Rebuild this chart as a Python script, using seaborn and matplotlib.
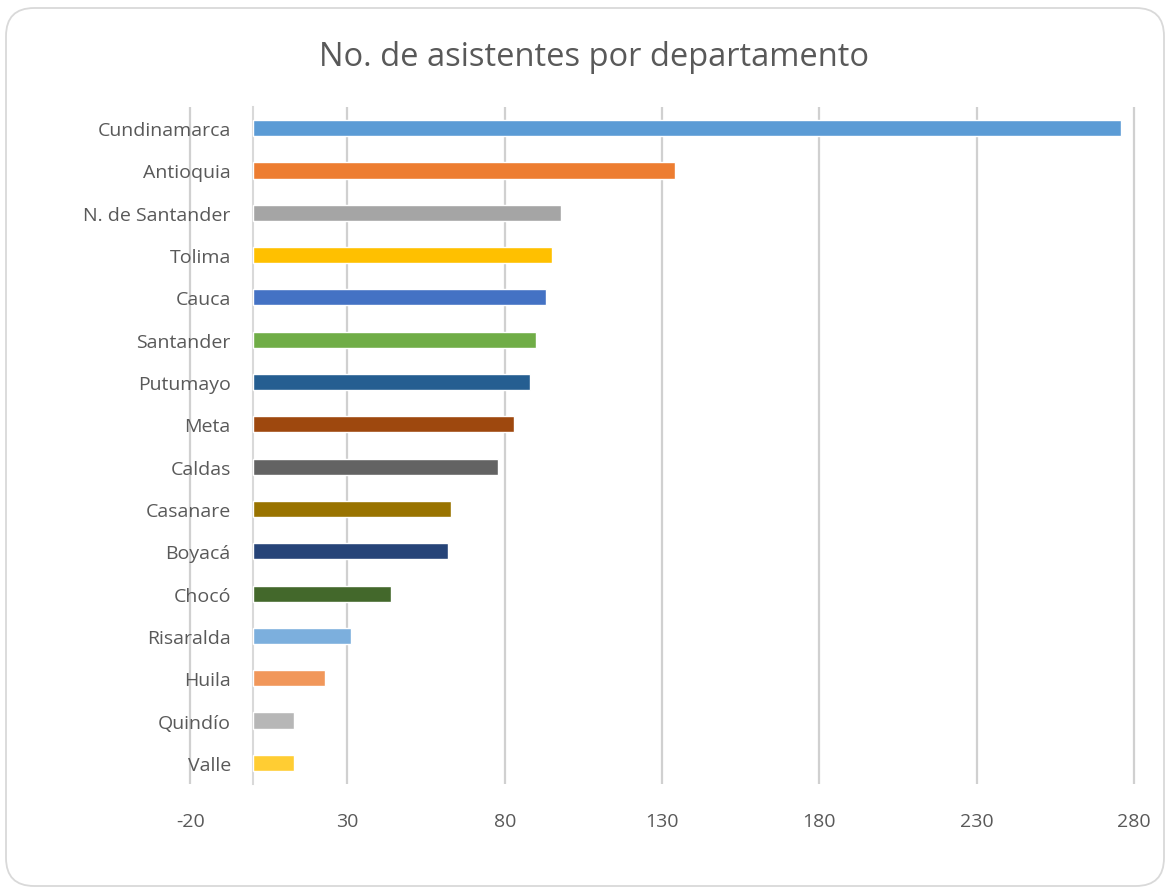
import matplotlib
matplotlib.use("Agg")
import matplotlib.pyplot as plt
from matplotlib.patches import FancyBboxPatch
import seaborn as sns
import pandas as pd

departamentos = ["Cundinamarca", "Antioquia", "N. de Santander", "Tolima", "Cauca",
                 "Santander", "Putumayo", "Meta", "Caldas", "Casanare", "Boyacá",
                 "Chocó", "Risaralda", "Huila", "Quindío", "Valle"]
asistentes = [276, 134, 98, 95, 93, 90, 88, 83, 78, 63, 62, 44, 31, 23, 13, 13]
colores = ["#5B9BD5", "#ED7D31", "#A5A5A5", "#FFC000", "#4472C4", "#70AD47",
           "#255E91", "#9E480E", "#636363", "#997300", "#264478", "#43682B",
           "#7CAFDD", "#F1975A", "#B7B7B7", "#FFCD33"]
xticks = [-20, 30, 80, 130, 180, 230, 280]
titulo = "No. de asistentes por departamento"

df = pd.DataFrame({"dep": departamentos, "n": asistentes})

sns.set_theme(style="white")
plt.rcParams["font.family"] = ["Open Sans", "DejaVu Sans"]

fig = plt.figure(figsize=(11.71, 8.95), dpi=100)
fig.patch.set_facecolor("white")
border = FancyBboxPatch((6 / 1171, 8 / 895), 1158 / 1171, 878 / 895,
                        boxstyle="round,pad=0,rounding_size=0.024",
                        transform=fig.transFigure, facecolor="white",
                        edgecolor="#D9D9D9", linewidth=1.3, mutation_aspect=1171 / 895,
                        zorder=-5)
fig.patches.append(border)

ax = fig.add_axes([187 / 1171, 1 - 785 / 895, (1137 - 187) / 1171, (785 - 108) / 895])
ax.set_zorder(2)
ax.set_facecolor("none")
sns.barplot(data=df, x="n", y="dep", hue="dep", palette=colores, legend=False,
            width=0.38, saturation=1, ax=ax, orient="h", zorder=3)

ax.set_xlim(-21, 281)
ax.set_ylim(15.5, -0.5)
ax.set_xticks(xticks)
ax.set_xticklabels([str(t) for t in xticks])
ax.grid(False)
ax.vlines(xticks, 0, 1, transform=ax.get_xaxis_transform(),
          colors="#D0D0D0", linewidth=1.6, zorder=0)
for s in ["top", "right", "bottom"]:
    ax.spines[s].set_visible(False)
ax.spines["left"].set_position(("data", 0))
ax.spines["left"].set_color("#D9D9D9")
ax.spines["left"].set_linewidth(1.5)
ax.tick_params(axis="y", length=0, pad=16, labelsize=14, labelcolor="#595959")
ax.tick_params(axis="x", length=0, pad=20, labelsize=14, labelcolor="#595959")
ax.set_xlabel("")
ax.set_ylabel("")

fig.text(594 / 1171, 1 - 57 / 895, titulo, ha="center", va="center",
         fontsize=23.5, color="#595959")

fig.savefig("out.png", dpi=100)
